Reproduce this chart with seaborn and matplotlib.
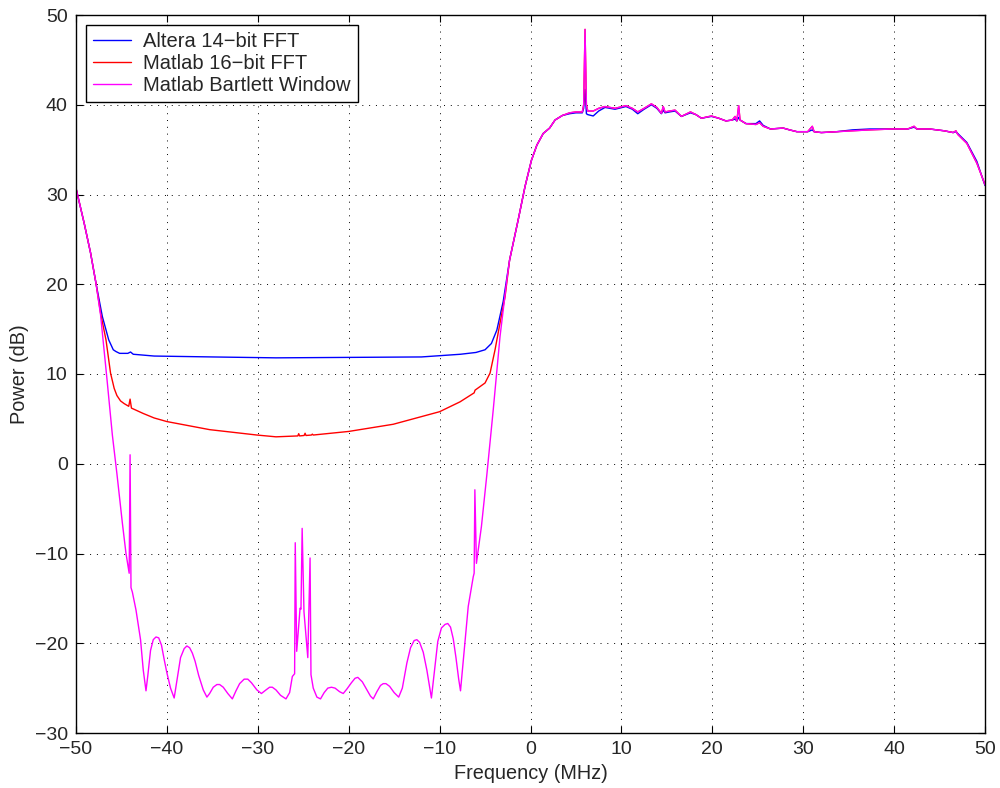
import numpy as np
import pandas as pd
import matplotlib.pyplot as plt
import seaborn as sns

# stopband (left part) of each spectrum
stop_freq_altera = [-50, -49.1, -48.4, -47.8, -47.1, -46.4, -45.9, -45.6, -45.2, -44.3, -44.0, -43.7,
                    -41.4, -35, -28, -20, -12, -7.7, -6.0, -5.0, -4.3, -3.7, -3.0, -2.3]
stop_power_altera = [30.7, 26.8, 23.5, 20.1, 16.4, 13.8, 12.7, 12.5, 12.3, 12.3, 12.45, 12.2,
                     12.0, 11.9, 11.8, 11.85, 11.9, 12.2, 12.4, 12.7, 13.4, 14.9, 18.1, 22.7]

stop_freq_fft16 = [-50, -49.1, -48.4, -47.8, -47.3, -46.7, -46.2, -45.8, -45.5, -45.1, -44.7, -44.2, -44.05, -43.9,
                   -42.6, -41.4, -40, -35.3, -30.1, -28, -25.6, -25.5, -25.4, -24.9, -24.8, -24.7, -24.1, -24.0,
                   -23.9, -20, -15.1, -10, -7.75, -6.2, -6.1, -5.0, -4.45, -3.9, -3.35, -2.8, -2.3]
stop_power_fft16 = [30.7, 26.8, 23.5, 20.1, 16.8, 13.8, 10.1, 8.4, 7.6, 7.0, 6.7, 6.4, 7.2, 6.2,
                    5.6, 5.1, 4.7, 3.8, 3.2, 3.0, 3.1, 3.35, 3.1, 3.15, 3.4, 3.15, 3.2, 3.3,
                    3.2, 3.6, 4.4, 5.8, 6.9, 7.9, 8.2, 9.0, 10.1, 12.7, 15.7, 18.6, 22.7]

stop_freq_bartlett = [-50, -49.1, -48.4, -47.8, -47.3, -46.6, -46.0, -45.5, -44.9, -44.5, -44.15, -44.05,
                      -43.95, -43.8, -43.4, -42.9, -42.6, -42.3, -42.1, -41.8, -41.5, -41.2, -40.9, -40.6, -40.3,
                      -40.0, -39.6, -39.2, -38.9, -38.5, -38.1, -37.8, -37.5, -37.2, -36.9, -36.5, -36.0, -35.6,
                      -35.3, -34.9, -34.5, -34.2, -33.8, -33.3, -32.8, -32.4, -32.0, -31.5, -31.1, -30.7, -30.1,
                      -29.6, -29.1, -28.7, -28.4, -28.0, -27.5, -26.9, -26.5, -26.2, -25.95, -25.88, -25.72,
                      -25.35, -25.25, -25.12, -24.92, -24.5, -24.25, -24.15, -23.9, -23.5, -23.1, -22.7, -22.3,
                      -21.9, -21.5, -21.0, -20.6, -20.2, -19.7, -19.3, -19.0, -18.5, -18.0, -17.6, -17.3, -16.9,
                      -16.5, -16.2, -15.9, -15.5, -15.0, -14.5, -14.1, -13.6, -13.2, -12.8, -12.5, -12.2, -11.8,
                      -11.4, -10.9, -10.6, -10.2, -9.8, -9.4, -9.1, -8.8, -8.5, -8.2, -7.9, -7.7, -7.4, -6.85,
                      -6.3, -6.2, -6.12, -5.95, -5.4, -4.8, -4.1, -3.35, -2.6, -2.3]
stop_power_bartlett = [30.7, 26.8, 23.5, 20.1, 16.6, 9.5, 3.2, -1.1, -6.6, -10.0, -12.2, 1.0,
                       -13.8, -14.3, -16.3, -19.6, -23.0, -25.3, -23.6, -20.8, -19.6, -19.3, -19.4, -20.2, -21.8,
                       -23.3, -25.0, -26.1, -24.2, -21.6, -20.6, -20.3, -20.5, -21.1, -22.0, -23.6, -25.2, -26.0,
                       -25.6, -24.9, -24.6, -24.6, -24.9, -25.6, -26.2, -25.3, -24.5, -24.0, -24.0, -24.4, -25.2,
                       -25.6, -25.2, -24.9, -24.9, -25.2, -25.8, -26.2, -25.5, -23.7, -23.4, -8.8, -20.9,
                       -16.1, -16.2, -7.2, -16.5, -21.6, -10.5, -23.5, -25.0, -26.0, -26.2, -25.5, -25.0,
                       -24.9, -25.0, -25.4, -25.6, -25.1, -24.4, -23.9, -23.8, -24.3, -25.2, -25.9, -26.2, -25.4,
                       -24.7, -24.5, -24.5, -24.8, -25.5, -26.0, -25.0, -22.2, -20.5, -19.7, -19.6, -19.9, -21.0,
                       -23.0, -26.1, -23.4, -19.8, -18.3, -17.9, -17.8, -18.2, -19.5, -21.6, -24.0, -25.3, -22.0, -15.9,
                       -12.6, -12.2, -2.9, -11.1, -7.0, -1.2, 6.0, 14.2, 20.5, 22.7]

# passband (right part), shared frequency grid
pass_freq = [-1.35, -0.6, 0.1, 0.7, 1.4, 2.1, 2.7, 3.5, 4.3, 5.0, 5.7, 5.85, 6.0, 6.15, 6.3, 6.9,
             7.5, 8.2, 9.3, 10.5, 11.2, 11.8, 12.5, 13.3, 13.9, 14.4, 14.6, 14.8, 15.3, 15.9, 16.6, 17.6,
             18.2, 18.8, 19.9, 20.7, 21.5, 22.2, 22.5, 22.7, 22.9, 23.05, 23.7, 24.8, 25.2, 25.6, 26.4, 27.8,
             28.5, 29.3, 30.5, 31.0, 31.2, 32.0, 33.7, 35.4, 37.3, 39.9, 41.5, 42.2, 42.5, 43.9,
             45.5, 46.5, 46.8, 47.0, 48.0, 49.1, 50]
pass_power_fft16 = [27.2, 30.9, 33.8, 35.5, 36.8, 37.4, 38.3, 38.8, 39.1, 39.2, 39.2, 40.0, 48.4, 40.0, 39.3, 39.3,
                    39.6, 39.8, 39.6, 39.9, 39.6, 39.2, 39.6, 40.1, 39.7, 39.05, 39.8, 39.2, 39.3, 39.4, 38.7, 39.2,
                    38.9, 38.5, 38.75, 38.5, 38.2, 38.3, 38.7, 38.2, 39.9, 38.3, 37.9, 37.8, 38.0, 37.6, 37.3, 37.4,
                    37.2, 37.0, 37.0, 37.6, 37.0, 36.9, 37.0, 37.1, 37.2, 37.3, 37.3, 37.6, 37.3, 37.3,
                    37.1, 36.9, 37.1, 36.7, 35.7, 33.5, 31.1]
pass_power_altera = [27.2, 30.9, 33.8, 35.5, 36.8, 37.4, 38.3, 38.8, 39.0, 39.1, 39.1, 39.6, 41.7, 39.0, 38.9, 38.75,
                     39.3, 39.7, 39.5, 39.8, 39.5, 39.0, 39.5, 40.0, 39.6, 39.0, 39.4, 39.1, 39.2, 39.3, 38.7, 39.1,
                     38.9, 38.5, 38.7, 38.5, 38.2, 38.3, 38.4, 38.2, 38.6, 38.3, 37.9, 37.9, 38.2, 37.7, 37.3, 37.4,
                     37.2, 37.0, 37.0, 37.2, 37.0, 36.9, 37.0, 37.2, 37.3, 37.3, 37.3, 37.5, 37.3, 37.3,
                     37.1, 36.9, 37.0, 36.8, 35.8, 33.7, 31.0]

labels = ['Altera 14\u2212bit FFT', 'Matlab 16\u2212bit FFT', 'Matlab Bartlett Window']
colors = ['#0000ff', '#ff0000', '#ff00ff']

frames = []
for lab, sf, sp, pp in [(labels[0], stop_freq_altera, stop_power_altera, pass_power_altera),
                        (labels[1], stop_freq_fft16, stop_power_fft16, pass_power_fft16),
                        (labels[2], stop_freq_bartlett, stop_power_bartlett, pass_power_fft16)]:
    frames.append(pd.DataFrame({'freq': sf + pass_freq, 'power': sp + pp, 'series': lab}))
df = pd.concat(frames, ignore_index=True)

sns.set_style('ticks')
plt.rcParams['font.family'] = ['Liberation Sans', 'DejaVu Sans']
plt.rcParams['axes.unicode_minus'] = True

fig, ax = plt.subplots(figsize=(10, 7.88), dpi=100)
fig.subplots_adjust(left=0.076, right=0.985, top=1 - 15 / 788, bottom=1 - 733 / 788)

sns.lineplot(data=df, x='freq', y='power', hue='series', hue_order=labels,
             palette=colors, sort=False, estimator=None, linewidth=1.0, ax=ax)

ax.set_xlim(-50, 50)
ax.set_ylim(-30, 50)
ax.set_xticks(np.arange(-50, 51, 10))
ax.set_yticks(np.arange(-30, 51, 10))
ax.grid(True, color='black', linestyle=(0, (1, 6)), linewidth=0.7)
ax.tick_params(direction='in', top=True, right=True, length=5, labelsize=14, color='black', pad=6)
for s in ax.spines.values():
    s.set_color('black')
    s.set_linewidth(1.0)
ax.set_xlabel('Frequency (MHz)', fontsize=14.3, labelpad=4)
ax.set_ylabel('Power (dB)', fontsize=14.3, labelpad=4)

leg = ax.legend(loc='upper left', fontsize=14.5, fancybox=False, edgecolor='black', framealpha=1,
                borderaxespad=0.5, handlelength=1.9, handletextpad=0.6, labelspacing=0.15, borderpad=0.35)
leg.get_frame().set_linewidth(1.0)

plt.savefig('out.png', dpi=100)
